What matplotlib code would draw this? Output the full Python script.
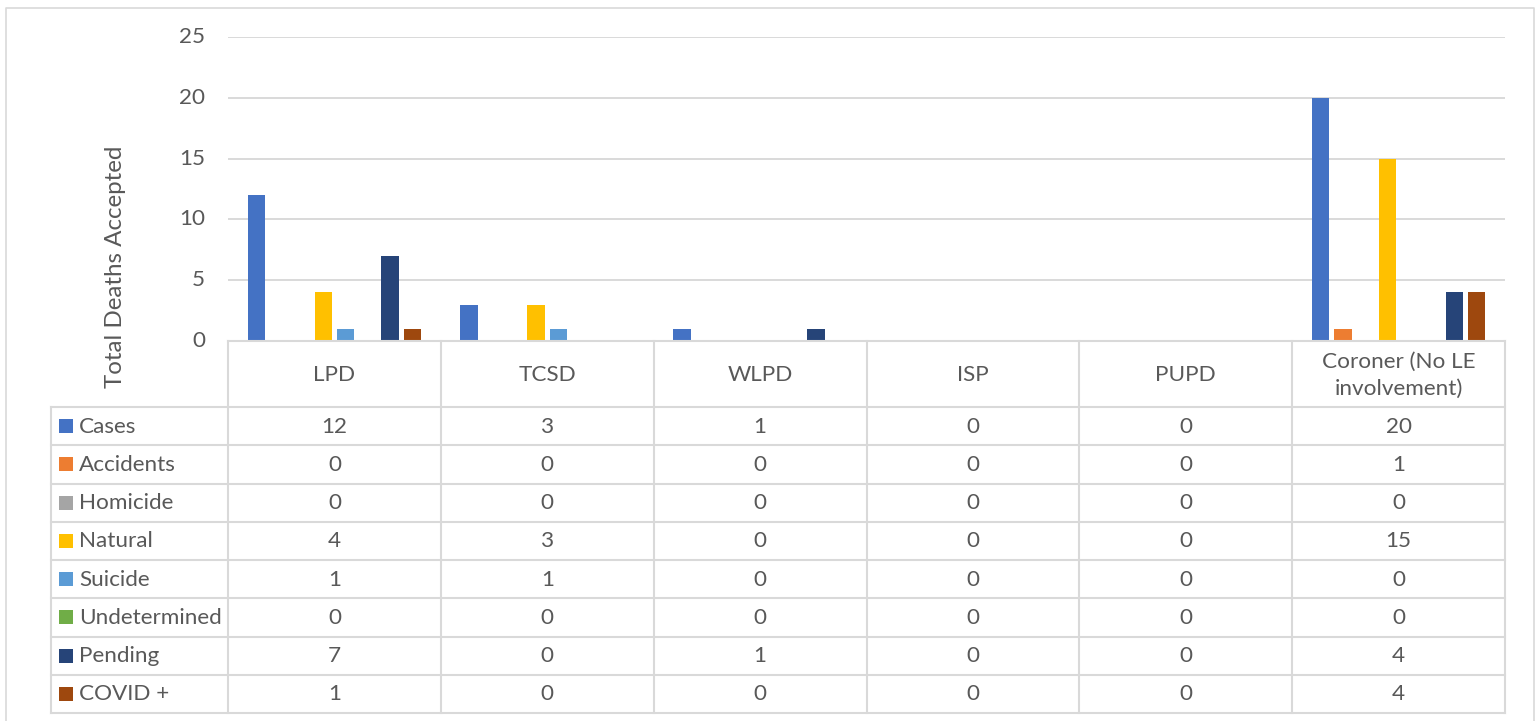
import matplotlib
matplotlib.use("Agg")
import matplotlib.pyplot as plt
import numpy as np

plt.rcParams['font.family'] = ['Lato', 'DejaVu Sans']

# ---- data ----
categories = ["LPD", "TCSD", "WLPD", "ISP", "PUPD", "Coroner (No LE\ninvolvement)"]
series_names = ["Cases", "Accidents", "Homicide", "Natural", "Suicide",
                "Undetermined", "Pending", "COVID +"]
cases = [12, 3, 1, 0, 0, 20]
accidents = [0, 0, 0, 0, 0, 1]
homicide = [0, 0, 0, 0, 0, 0]
natural = [4, 3, 0, 0, 0, 15]
suicide = [1, 1, 0, 0, 0, 0]
undetermined = [0, 0, 0, 0, 0, 0]
pending = [7, 0, 1, 0, 0, 4]
covid = [1, 0, 0, 0, 0, 4]
series_values = [cases, accidents, homicide, natural, suicide, undetermined, pending, covid]
colors = ["#4472C4", "#ED7D31", "#A5A5A5", "#FFC000", "#5B9BD5",
          "#70AD47", "#264478", "#9E480E"]
yticks = [0, 5, 10, 15, 20, 25]
ylabel = "Total Deaths Accepted"

# ---- layout (pixels) ----
W, H = 1538, 721
DPI = 100
fig = plt.figure(figsize=(W / DPI, H / DPI), dpi=DPI)
fig.patch.set_facecolor("white")

plot_left, plot_right = 228, 1505
y_zero, y_top = 341, 37
header_bottom = 407
table_bottom = 713
label_left = 51
text_color = "#595959"
grid_color = "#D9D9D9"
fs = 16.2

ax = fig.add_axes([plot_left / W, 1 - y_zero / H,
                   (plot_right - plot_left) / W, (y_zero - y_top) / H])
ax.set_xlim(-0.5, len(categories) - 0.5)
ax.set_ylim(0, 25)
for s in ax.spines.values():
    s.set_visible(False)
ax.set_xticks([])
ax.set_yticks(yticks[1:])
ax.yaxis.grid(True, color=grid_color, lw=1.4)
ax.set_axisbelow(True)
ax.tick_params(axis='y', length=0, labelleft=False)

n = len(series_names)
spacing = 0.1048
bw = 0.082
x = np.arange(len(categories))
for i, (vals, c) in enumerate(zip(series_values, colors)):
    offs = (i - (n - 1) / 2) * spacing
    ax.bar(x + offs, vals, width=bw, color=c, zorder=3, linewidth=0)

# overlay for table, labels
ov = fig.add_axes([0, 0, 1, 1], zorder=5)
ov.set_xlim(0, W)
ov.set_ylim(H, 0)
ov.axis('off')
ov.patch.set_alpha(0)

# outer border
ov.plot([5.5, 5.5, 1533.5, 1533.5], [H + 5, 7.5, 7.5, H + 5], color="#D9D9D9", lw=1.2)

# y tick labels
for t in yticks:
    yp = y_zero - (y_zero - y_top) * t / 25
    ov.text(205, yp, str(t), ha='right', va='center', fontsize=fs, color=text_color)

# y axis label
ov.text(115, 267, ylabel, rotation=90, ha='center', va='center',
        fontsize=fs + 1.2, color=text_color)

col_w = (plot_right - plot_left) / len(categories)
row_h = (table_bottom - header_bottom) / n
lw_t = 1.5

# header row
ov.plot([plot_left, plot_right], [y_zero, y_zero], color=grid_color, lw=lw_t, zorder=4)
for j in range(len(categories) + 1):
    xp = plot_left + j * col_w
    ov.plot([xp, xp], [y_zero, table_bottom], color=grid_color, lw=lw_t)
for k in range(n + 1):
    yp = header_bottom + k * row_h
    ov.plot([label_left, plot_right], [yp, yp], color=grid_color, lw=lw_t)
ov.plot([label_left, label_left], [header_bottom, table_bottom], color=grid_color, lw=lw_t)

for j, cat in enumerate(categories):
    xc = plot_left + (j + 0.5) * col_w
    ov.text(xc, (y_zero + header_bottom) / 2 + 1, cat, ha='center', va='center',
            fontsize=fs, color=text_color, linespacing=1.45)

for k, (name, vals, c) in enumerate(zip(series_names, series_values, colors)):
    yc = header_bottom + (k + 0.5) * row_h
    ov.add_patch(plt.Rectangle((59, yc - 7), 14, 14, color=c, lw=0))
    ov.text(79, yc + 0.5, name, ha='left', va='center', fontsize=fs, color=text_color)
    for j, v in enumerate(vals):
        xc = plot_left + (j + 0.5) * col_w
        ov.text(xc, yc + 0.5, str(v), ha='center', va='center', fontsize=fs, color=text_color)

fig.savefig("out.png", dpi=DPI, facecolor="white")
